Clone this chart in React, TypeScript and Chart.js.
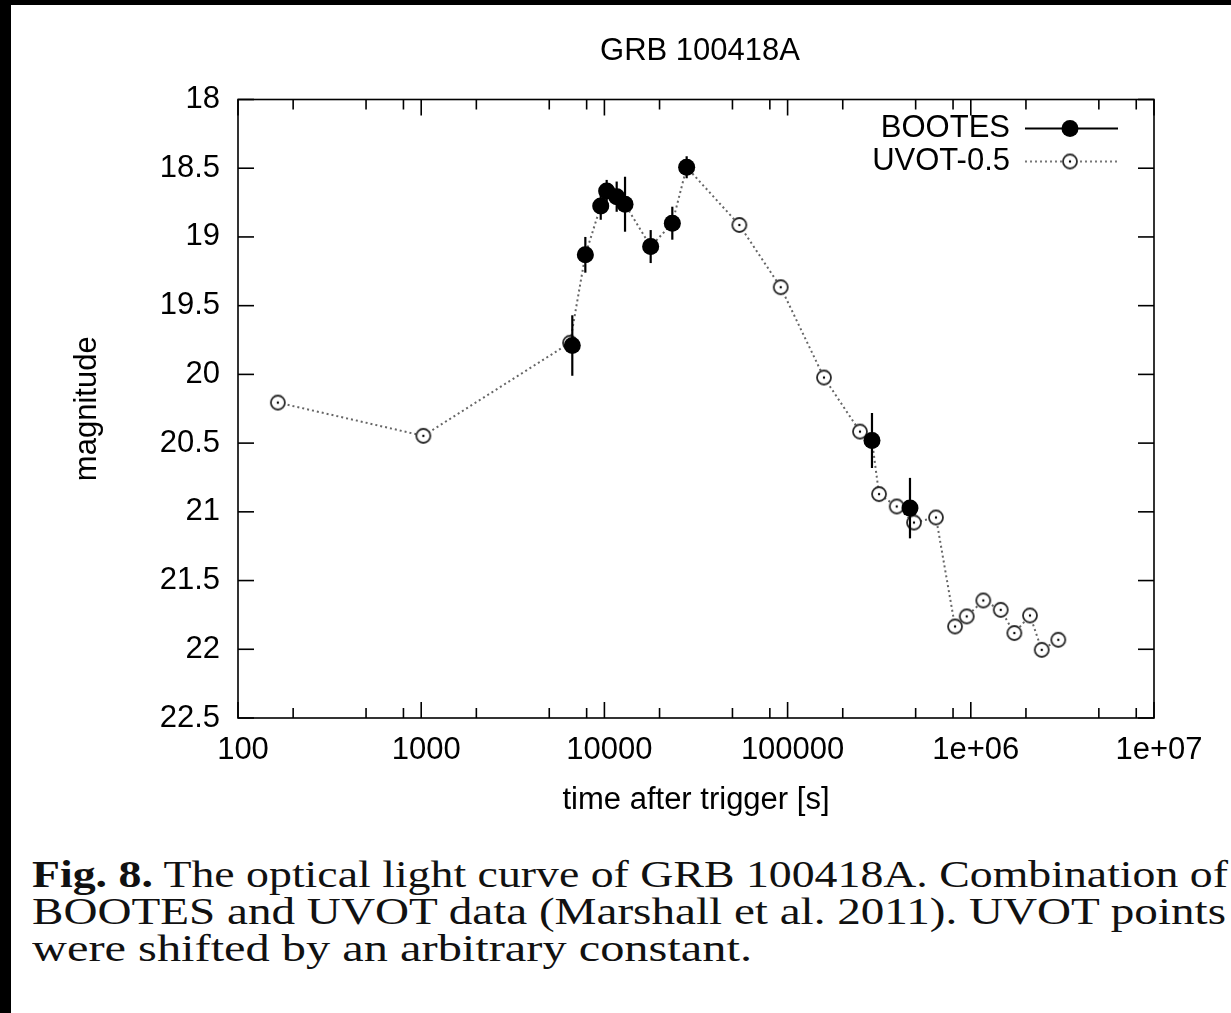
import React, { useEffect, useLayoutEffect, useRef } from "react";
import { Chart, registerables } from "chart.js";

Chart.register(...registerables);

// ---------- text ----------
const chartTitle = "GRB 100418A";
const xAxisTitle = "time after trigger [s]";
const yAxisTitle = "magnitude";
const legendLabels = ["BOOTES", "UVOT-0.5"];
const captionBold = "Fig. 8.";
const captionLines = [
  " The optical light curve of GRB 100418A. Combination of",
  "BOOTES and UVOT data (Marshall et al. 2011). UVOT points",
  "were shifted by an arbitrary constant.",
];
const captionWidths = [1196, 1194, 720];

// ---------- axes ----------
const xTickValues = [100, 1000, 10000, 100000, 1000000, 10000000];
const xTickLabels = ["100", "1000", "10000", "100000", "1e+06", "1e+07"];
const xMinorMultipliers = [2, 5, 8];
const yMin = 18;
const yMax = 22.5;
const yStep = 0.5;

// ---------- data ----------
const bootesTime = [6680, 7870, 9550, 10290, 11670, 12960, 17890, 23480, 28120, 288800, 465600];
const bootesMag = [19.79, 19.13, 18.775, 18.665, 18.707, 18.762, 19.07, 18.9, 18.493, 20.481, 20.973];
const bootesErr = [0.22, 0.13, 0.1, 0.08, 0.11, 0.2, 0.12, 0.12, 0.08, 0.2, 0.22];

const uvotTime = [
  165, 1027, 6490, 7870, 9550, 10290, 11670, 12960, 17890, 23480, 28120, 54530, 91700, 158000,
  248400, 288800, 315500, 394000, 489700, 645700, 820000, 950000, 1170000, 1456000, 1728000,
  2104000, 2438000, 3003000,
];
const uvotMag = [
  20.205, 20.447, 19.77, 19.13, 18.775, 18.665, 18.707, 18.762, 19.07, 18.9, 18.493, 18.913, 19.366,
  20.023, 20.416, 20.481, 20.871, 20.961, 21.078, 21.041, 21.834, 21.761, 21.645, 21.713, 21.882,
  21.754, 22.004, 21.931,
];

const FONT = "'Liberation Sans', Arial, sans-serif";
const FS = 31;

function makeUvotMarker(): HTMLCanvasElement {
  const c = document.createElement("canvas");
  c.width = 20;
  c.height = 20;
  const g = c.getContext("2d")!;
  g.fillStyle = "#fff";
  g.beginPath();
  g.arc(10, 10, 7, 0, Math.PI * 2);
  g.fill();
  g.strokeStyle = "#2a2a2a";
  g.lineWidth = 1.8;
  g.stroke();
  g.fillStyle = "#000";
  g.beginPath();
  g.arc(10, 10, 1.2, 0, Math.PI * 2);
  g.fill();
  return c;
}

let uvotMarker: HTMLCanvasElement;

const framePlugin = {
  id: "frameTicks",
  afterDraw(chart: any) {
    const { ctx, chartArea, scales } = chart;
    const { left, right, top, bottom } = chartArea;
    const x = scales.x;
    const y = scales.y;
    ctx.save();
    ctx.strokeStyle = "#000";
    ctx.lineWidth = 1.6;
    const seg = (x1: number, y1: number, x2: number, y2: number) => {
      ctx.beginPath();
      ctx.moveTo(x1, y1);
      ctx.lineTo(x2, y2);
      ctx.stroke();
    };
    ctx.strokeRect(left, top, right - left, bottom - top);
    xTickValues.forEach((v, i) => {
      const px = x.getPixelForValue(v);
      seg(px, bottom, px, bottom - 16);
      seg(px, top, px, top + 16);
      if (i < xTickValues.length - 1) {
        xMinorMultipliers.forEach((m) => {
          const qx = x.getPixelForValue(v * m);
          seg(qx, bottom, qx, bottom - 10);
          seg(qx, top, qx, top + 10);
        });
      }
    });
    for (let v = yMin; v <= yMax + 1e-9; v += yStep) {
      const py = y.getPixelForValue(v);
      seg(left, py, left + 16, py);
      seg(right, py, right - 16, py);
    }

    // title
    ctx.fillStyle = "#000";
    ctx.font = `${FS}px ${FONT}`;
    ctx.textAlign = "center";
    ctx.textBaseline = "middle";
    ctx.fillText(chartTitle, (left + right) / 2 + 4, 51);

    // legend
    const textRight = right - 144;
    const lx1 = right - 129;
    const lx2 = right - 36;
    const mx = right - 84;
    const ly = [top + 29, top + 62];
    ctx.textAlign = "right";
    ctx.fillText(legendLabels[0], textRight, ly[0]);
    ctx.fillText(legendLabels[1], textRight, ly[1]);
    ctx.lineWidth = 2;
    ctx.strokeStyle = "#000";
    seg(lx1, ly[0], lx2, ly[0]);
    ctx.fillStyle = "#000";
    ctx.beginPath();
    ctx.arc(mx, ly[0], 8.5, 0, Math.PI * 2);
    ctx.fill();
    ctx.strokeStyle = "#777";
    ctx.setLineDash([2, 3]);
    seg(lx1, ly[1], lx2, ly[1]);
    ctx.setLineDash([]);
    ctx.drawImage(uvotMarker, mx - 10, ly[1] - 10);
    ctx.restore();
  },
};

const errorBarPlugin = {
  id: "errorBars",
  afterDatasetsDraw(chart: any) {
    const { ctx, scales } = chart;
    const meta = chart.getDatasetMeta(0);
    ctx.save();
    ctx.strokeStyle = "#000";
    ctx.lineWidth = 2.2;
    meta.data.forEach((pt: any, i: number) => {
      const y1 = scales.y.getPixelForValue(bootesMag[i] - bootesErr[i]);
      const y2 = scales.y.getPixelForValue(bootesMag[i] + bootesErr[i]);
      ctx.beginPath();
      ctx.moveTo(pt.x, y1);
      ctx.lineTo(pt.x, y2);
      ctx.stroke();
    });
    ctx.restore();
  },
};

export default function App() {
  const ref = useRef<HTMLCanvasElement>(null);
  const capRefs = useRef<(HTMLDivElement | null)[]>([]);

  useLayoutEffect(() => {
    capRefs.current.forEach((el, i) => {
      if (!el) return;
      el.style.transform = "none";
      const w = el.getBoundingClientRect().width;
      if (w > 0) el.style.transform = `scaleX(${captionWidths[i] / w})`;
    });
  }, []);

  useEffect(() => {
    uvotMarker = makeUvotMarker();
    const font = { family: FONT, size: FS };
    const chart = new Chart(ref.current!, {
      type: "scatter",
      data: {
        datasets: [
          {
            label: legendLabels[0],
            data: bootesTime.map((t, i) => ({ x: t, y: bootesMag[i] })),
            showLine: false,
            pointStyle: "circle",
            pointRadius: 8.5,
            pointBackgroundColor: "#000",
            pointBorderColor: "#000",
            pointBorderWidth: 0,
          },
          {
            label: legendLabels[1],
            data: uvotTime.map((t, i) => ({ x: t, y: uvotMag[i] })),
            showLine: true,
            borderColor: "#666",
            borderWidth: 2,
            borderDash: [2, 3],
            pointStyle: uvotMarker,
            pointRadius: 8,
          },
        ],
      },
      options: {
        responsive: false,
        animation: false,
        devicePixelRatio: 1,
        layout: { padding: { top: 99.5, left: 0, right: 77, bottom: 0 } },
        plugins: {
          legend: { display: false },
          title: { display: false },
          tooltip: { enabled: false },
        },
        scales: {
          x: {
            type: "logarithmic",
            min: 100,
            max: 10000000,
            grid: { display: false, drawTicks: false },
            border: { display: false },
            afterBuildTicks: (s: any) => {
              s.ticks = xTickValues.map((v) => ({ value: v }));
            },
            afterFit: (s: any) => {
              s.height = 102;
            },
            ticks: {
              autoSkip: false,
              maxRotation: 0,
              padding: 14,
              labelOffset: 5,
              color: "#000",
              font,
              callback: (_v: any, i: number) => xTickLabels[i],
            },
            title: {
              display: true,
              text: xAxisTitle,
              color: "#000",
              font,
              padding: { top: 0, bottom: 1 },
            },
          },
          y: {
            type: "linear",
            reverse: true,
            min: yMin,
            max: yMax,
            grid: { display: false, drawTicks: false },
            border: { display: false },
            afterFit: (s: any) => {
              s.width = 238;
            },
            ticks: {
              stepSize: yStep,
              padding: 18,
              color: "#000",
              font,
              callback: (v: any) => String(v),
            },
            title: {
              display: true,
              text: yAxisTitle,
              color: "#000",
              font,
              padding: { top: 69, bottom: 0 },
            },
          },
        },
      },
      plugins: [errorBarPlugin, framePlugin],
    } as any);
    return () => chart.destroy();
  }, []);

  const capStyle: React.CSSProperties = {
    position: "absolute",
    left: 32,
    whiteSpace: "nowrap",
    fontFamily: "'Liberation Serif', 'DejaVu Serif', serif",
    fontSize: 37,
    lineHeight: "40px",
    color: "#111",
    transformOrigin: "0 50%",
    display: "inline-block",
  };

  return (
    <div
      style={{
        position: "absolute",
        left: 0,
        top: 0,
        width: 1231,
        height: 1013,
        background: "#fff",
        overflow: "hidden",
      }}
    >
      <canvas
        ref={ref}
        width={1231}
        height={820}
        style={{ position: "absolute", left: 0, top: 0, width: 1231, height: 820 }}
      />
      <div style={{ position: "absolute", left: 0, top: 0, width: 1231, height: 5, background: "#000" }} />
      <div style={{ position: "absolute", left: 0, top: 0, width: 11, height: 1013, background: "#000" }} />
      <div ref={(el) => { capRefs.current[0] = el; }} style={{ ...capStyle, top: 855 }}>
        <b>{captionBold}</b>
        {captionLines[0]}
      </div>
      <div ref={(el) => { capRefs.current[1] = el; }} style={{ ...capStyle, top: 892 }}>
        {captionLines[1]}
      </div>
      <div ref={(el) => { capRefs.current[2] = el; }} style={{ ...capStyle, top: 929 }}>
        {captionLines[2]}
      </div>
    </div>
  );
}
